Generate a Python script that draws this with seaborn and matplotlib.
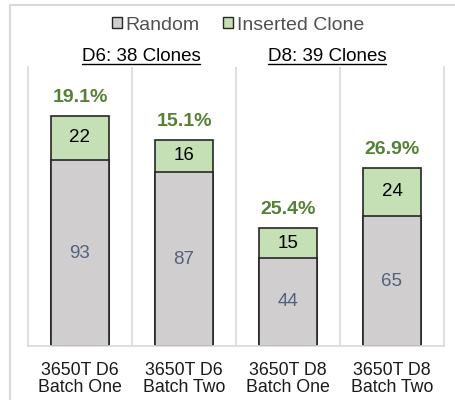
import matplotlib
matplotlib.use("Agg")
import matplotlib.pyplot as plt
import seaborn as sns
import pandas as pd
from matplotlib.patches import Rectangle, Patch

# Clone counts per batch
categories = ["3650T D6\nBatch One", "3650T D6\nBatch Two",
              "3650T D8\nBatch One", "3650T D8\nBatch Two"]
random_counts = [93, 87, 44, 65]
inserted_counts = [22, 16, 15, 24]
inserted_pct_labels = ["19.1%", "15.1%", "25.4%", "26.9%"]
group_titles = ["D6: 38 Clones", "D8: 39 Clones"]
series_names = ["Random", "Inserted Clone"]

GRAY = "#d0cece"
GREEN = "#c5e0b4"
EDGE = "#262626"
GRID = "#d9d9d9"
PCT_GREEN = "#548235"
RANDOM_TXT = "#52627e"

sns.set_theme(style="white")
plt.rcParams["font.family"] = ["Liberation Sans", "DejaVu Sans"]

df = pd.DataFrame({
    "batch": categories,
    "random": random_counts,
    "inserted": inserted_counts,
})
df["total"] = df["random"] + df["inserted"]

fig = plt.figure(figsize=(4.55, 4.0), dpi=100)
ax = fig.add_axes([28 / 455, 54 / 400, 416 / 455, 279 / 400])

# Stacked bars: full height in green, random portion drawn over it in gray
sns.barplot(data=df, x="batch", y="total", color=GREEN, width=0.56,
            edgecolor=EDGE, linewidth=1.2, saturation=1, ax=ax)
sns.barplot(data=df, x="batch", y="random", color=GRAY, width=0.56,
            edgecolor=EDGE, linewidth=1.2, saturation=1, ax=ax)

ax.set_xlim(-0.5, 3.5)
ax.set_ylim(0, 139.5)
ax.set_xlabel("")
ax.set_ylabel("")
ax.set_yticks([])

for i, (r, ins, pct) in enumerate(zip(random_counts, inserted_counts, inserted_pct_labels)):
    ax.text(i, r / 2, str(r), ha="center", va="center", fontsize=13.5, color=RANDOM_TXT)
    ax.text(i, r + ins / 2, str(ins), ha="center", va="center", fontsize=13.5, color="black")
    ax.annotate(pct, (i, r + ins), xytext=(0, 13), textcoords="offset points",
                ha="center", va="center", fontsize=14, fontweight="bold", color=PCT_GREEN)

# Category separators and frame
for xb in [0.5, 1.5, 2.5]:
    ax.axvline(xb, color=GRID, lw=1.2, zorder=0)
for side in ["left", "right", "bottom"]:
    ax.spines[side].set_visible(True)
    ax.spines[side].set_color(GRID)
    ax.spines[side].set_linewidth(1.2)
ax.spines["top"].set_visible(False)

ax.tick_params(axis="x", length=0, pad=11.5, labelsize=12.8, colors="#1a1a1a")
for lbl in ax.get_xticklabels():
    lbl.set_linespacing(1.02)

# Group titles with underlines
title_y = 1.0 + 6 / 279
title_texts = []
for xpos, title in zip([0.587, 2.375], group_titles):
    t = ax.text(xpos, title_y, title, transform=ax.get_xaxis_transform(),
                ha="center", va="baseline", fontsize=13.5, color="black")
    title_texts.append(t)

fig.canvas.draw()
renderer = fig.canvas.get_renderer()
W, H = fig.bbox.width, fig.bbox.height
for t in title_texts:
    bb = t.get_window_extent(renderer)
    _, y_base = ax.get_xaxis_transform().transform((t.get_position()[0], title_y))
    y_line = y_base - 2.5
    fig.add_artist(plt.Line2D([bb.x0 / W, bb.x1 / W], [y_line / H] * 2,
                              transform=fig.transFigure, color="black", lw=1.0))

handles = [Patch(facecolor=GRAY, edgecolor=EDGE, lw=1.0),
           Patch(facecolor=GREEN, edgecolor=EDGE, lw=1.0)]
fig.legend(handles, series_names, loc="center", bbox_to_anchor=(238 / 455, 1 - 25 / 400),
           ncol=2, frameon=False, fontsize=14, handlelength=0.5, handleheight=0.5,
           handletextpad=0.2, columnspacing=1.2, labelcolor="#505050")

# Outer frame of the figure
fig.add_artist(Rectangle((10 / 455, -0.1), 1.2, 1.1 - 5 / 400, transform=fig.transFigure,
                         fill=False, edgecolor=GRID, lw=1.5))

fig.savefig("out.png", dpi=100)
